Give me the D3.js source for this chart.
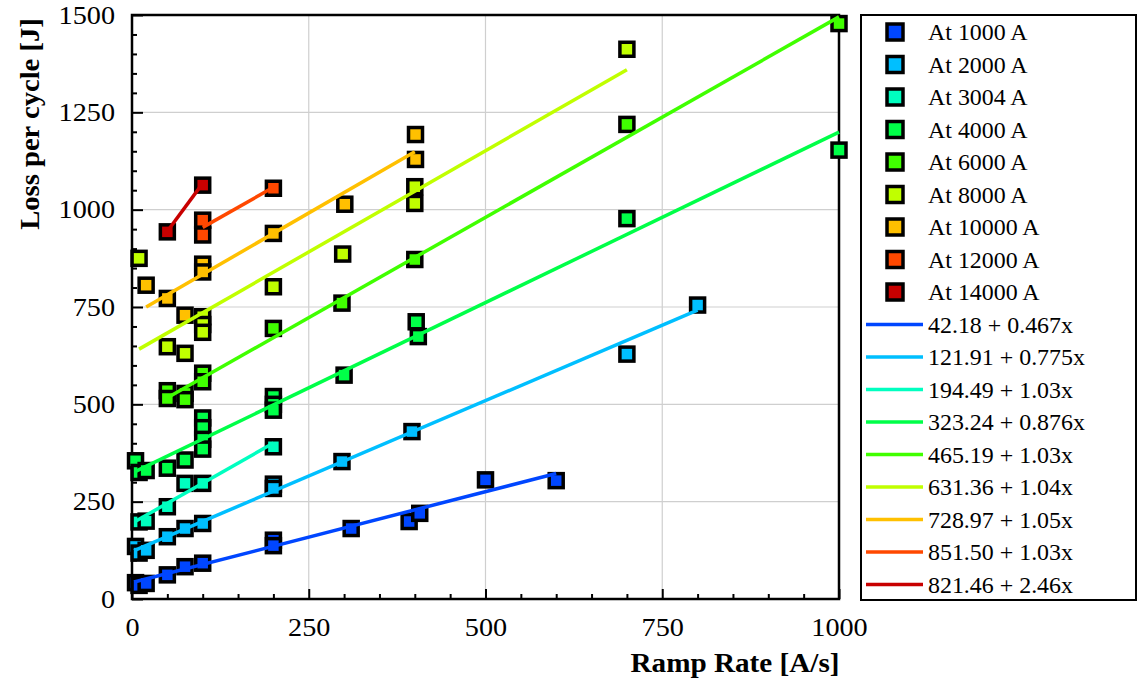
<!DOCTYPE html>
<html>
<head>
<meta charset="utf-8">
<script src="https://cdn.jsdelivr.net/npm/d3@7"></script>
<style>
	body { margin: 0; background: #fff; }
	svg text { font-family: "Liberation Serif", "Times New Roman", serif; }
</style>
</head>
<body>
<svg id="chart" width="1138" height="681"></svg>
<script>
// Data
var currents = ["1000", "2000", "3004", "4000", "6000", "8000", "10000", "12000", "14000"];
var colors = ["#0046ff", "#00bfff", "#00ffc0", "#00ff48", "#40ff00", "#c0ff00", "#ffc000", "#ff4800", "#c80000"];

var rate1000 = [5, 10, 20, 50, 75, 100, 200, 200, 310, 392, 407, 500, 600];
var loss1000 = [42, 35, 40, 62, 83, 92, 151, 137, 181, 199, 220, 306, 304];
var rate2000 = [5, 10, 20, 50, 75, 100, 200, 200, 297, 396, 700, 800];
var loss2000 = [135, 118, 125, 160, 181, 194, 295, 284, 353, 430, 629, 755];
var rate3004 = [10, 20, 50, 75, 100, 200];
var loss3004 = [198, 200, 237, 297, 297, 391];
var rate4000 = [5, 10, 20, 50, 75, 100, 100, 100, 100, 200, 200, 200, 300, 402, 405, 700, 1000];
var loss4000 = [355, 325, 330, 336, 357, 465, 440, 410, 385, 520, 500, 485, 575, 712, 674, 977, 1153];
var rate6000 = [50, 50, 75, 75, 100, 100, 200, 297, 400, 700, 1000];
var loss6000 = [535, 515, 528, 512, 580, 558, 695, 760, 872, 1219, 1478];
var rate8000 = [10, 50, 75, 100, 100, 100, 200, 298, 400, 400, 700];
var loss8000 = [875, 648, 631, 725, 705, 685, 802, 886, 1059, 1016, 1412];
var rate10000 = [20, 50, 75, 100, 100, 200, 301, 401, 401];
var loss10000 = [806, 772, 729, 860, 840, 939, 1014, 1129, 1193];
var rate12000 = [100, 100, 200];
var loss12000 = [973, 935, 1055];
var rate14000 = [50, 100];
var loss14000 = [943, 1063];

// Linear fits, as printed in the legend
var fitIntercept = [42.18, 121.91, 194.49, 323.24, 465.19, 631.36, 728.97, 851.50, 821.46];
var fitSlope = [0.467, 0.775, 1.03, 0.876, 1.03, 1.04, 1.05, 1.03, 2.46];
var fitLabel = ["42.18 + 0.467x", "121.91 + 0.775x", "194.49 + 1.03x", "323.24 + 0.876x", "465.19 + 1.03x",
	"631.36 + 1.04x", "728.97 + 1.05x", "851.50 + 1.03x", "821.46 + 2.46x"];
var fitFrom = [3, 3, 5, 5, 50, 10, 20, 100, 50];
var fitTo = [600, 800, 200, 1000, 1000, 700, 400, 200, 100];

var xTicks = [0, 250, 500, 750, 1000];
var yTicks = [0, 250, 500, 750, 1000, 1250, 1500];

var rates = [rate1000, rate2000, rate3004, rate4000, rate6000, rate8000, rate10000, rate12000, rate14000];
var losses = [loss1000, loss2000, loss3004, loss4000, loss6000, loss8000, loss10000, loss12000, loss14000];

var svg = d3.select("#chart");
var serif = "'Liberation Serif', 'Times New Roman', serif";

var x = d3.scaleLinear().domain([0, 1000]).range([132, 839]),
	y = d3.scaleLinear().domain([0, 1500]).range([599, 15]);

// Grid
var gridG = svg.append("g")
	.attr("stroke", "#cfcfcf")
	.attr("stroke-width", 1.2);

gridG.selectAll("line.gx")
	.data(xTicks.slice(1, -1))
	.enter().append("line")
	.attr("x1", function (d) { return x(d); })
	.attr("x2", function (d) { return x(d); })
	.attr("y1", y(0))
	.attr("y2", y(1500));

gridG.selectAll("line.gy")
	.data(yTicks.slice(1, -1))
	.enter().append("line")
	.attr("x1", x(0))
	.attr("x2", x(1000))
	.attr("y1", function (d) { return y(d); })
	.attr("y2", function (d) { return y(d); });

// Axes (ticks point inward)
var xAxisG = svg.append("g")
	.attr("transform", "translate(0," + y(0) + ")")
	.call(d3.axisBottom(x).tickValues(xTicks).tickFormat(d3.format("d"))
		.tickSizeInner(-10).tickSizeOuter(0).tickPadding(19));

svg.append("g")
	.attr("transform", "translate(0," + y(0) + ")")
	.call(d3.axisBottom(x).tickValues(d3.range(50, 1000, 50).filter(function (d) { return d % 250; }))
		.tickSizeInner(-5).tickSizeOuter(0).tickFormat(""));

var yAxisG = svg.append("g")
	.attr("transform", "translate(" + x(0) + ",0)")
	.call(d3.axisLeft(y).tickValues(yTicks).tickFormat(d3.format("d"))
		.tickSizeInner(-11).tickSizeOuter(0).tickPadding(15));

svg.append("g")
	.attr("transform", "translate(" + x(0) + ",0)")
	.call(d3.axisLeft(y).tickValues(d3.range(50, 1500, 50).filter(function (d) { return d % 250; }))
		.tickSizeInner(-5).tickSizeOuter(0).tickFormat(""));

svg.selectAll(".tick line").attr("stroke", "#000").attr("stroke-width", 2);
svg.selectAll(".domain").remove();
// the source figure's lettering is a little wider than plain Times
[xAxisG, yAxisG].forEach(function (g) {
	g.attr("font-family", null).attr("font-size", null);
	g.selectAll("text")
		.style("font-family", serif)
		.style("font-size", "25px")
		.attr("fill", "#000")
		.attr("transform", "scale(1.13,1)");
});

// Frame
svg.append("rect")
	.attr("x", x(0))
	.attr("y", y(1500))
	.attr("width", x(1000) - x(0))
	.attr("height", y(0) - y(1500))
	.attr("fill", "none")
	.attr("stroke", "#000")
	.attr("stroke-width", 2.5);

// Axis titles
svg.append("text")
	.attr("transform", "translate(735,672) scale(1.08,1)")
	.attr("text-anchor", "middle")
	.style("font-family", serif)
	.style("font-weight", "bold")
	.style("font-size", "27px")
	.text("Ramp Rate [A/s]");

svg.append("text")
	.attr("transform", "translate(39,124) rotate(-90) scale(1.06,1)")
	.attr("text-anchor", "middle")
	.style("font-family", serif)
	.style("font-weight", "bold")
	.style("font-size", "27px")
	.text("Loss per cycle [J]");

// Markers
var marksG = svg.append("g");
currents.forEach(function (c, i) {
	marksG.append("g")
		.attr("fill", colors[i])
		.attr("stroke", "#000")
		.attr("stroke-width", 3.5)
		.selectAll("rect")
		.data(d3.zip(rates[i], losses[i]))
		.enter().append("rect")
		.attr("x", function (d) { return x(d[0]) - 7; })
		.attr("y", function (d) { return y(d[1]) - 7; })
		.attr("width", 14)
		.attr("height", 14);
});

// Fit lines
var line = d3.line()
	.x(function (d) { return x(d[0]); })
	.y(function (d) { return y(d[1]); });

var fitsG = svg.append("g")
	.attr("fill", "none")
	.attr("stroke-width", 3.5);
currents.forEach(function (c, i) {
	var ends = [fitFrom[i], fitTo[i]].map(function (r) {
		return [r, fitIntercept[i] + fitSlope[i] * r];
	});
	fitsG.append("path")
		.attr("d", line(ends))
		.attr("stroke", colors[i]);
});

// Legend
var legendG = svg.append("g");

legendG.append("rect")
	.attr("x", 861)
	.attr("y", 15)
	.attr("width", 275)
	.attr("height", 585)
	.attr("fill", "#fff")
	.attr("stroke", "#000")
	.attr("stroke-width", 2);

var rowH = 32.5;

function legendText(cy, t) {
	legendG.append("text")
		.attr("transform", "translate(928," + cy + ") scale(1.04,1)")
		.attr("dy", "0.35em")
		.style("font-family", serif)
		.style("font-size", "23px")
		.text(t);
}

currents.forEach(function (c, i) {
	var cy = 32 + i * rowH;
	legendG.append("rect")
		.attr("x", 887)
		.attr("y", cy - 8)
		.attr("width", 16)
		.attr("height", 16)
		.attr("fill", colors[i])
		.attr("stroke", "#000")
		.attr("stroke-width", 3.5);
	legendText(cy, "At " + c + " A");
});

fitLabel.forEach(function (t, i) {
	var cy = 32 + (i + 9) * rowH;
	legendG.append("line")
		.attr("x1", 866)
		.attr("x2", 923)
		.attr("y1", cy)
		.attr("y2", cy)
		.attr("stroke", colors[i])
		.attr("stroke-width", 3.5);
	legendText(cy, t);
});
</script>
</body>
</html>
